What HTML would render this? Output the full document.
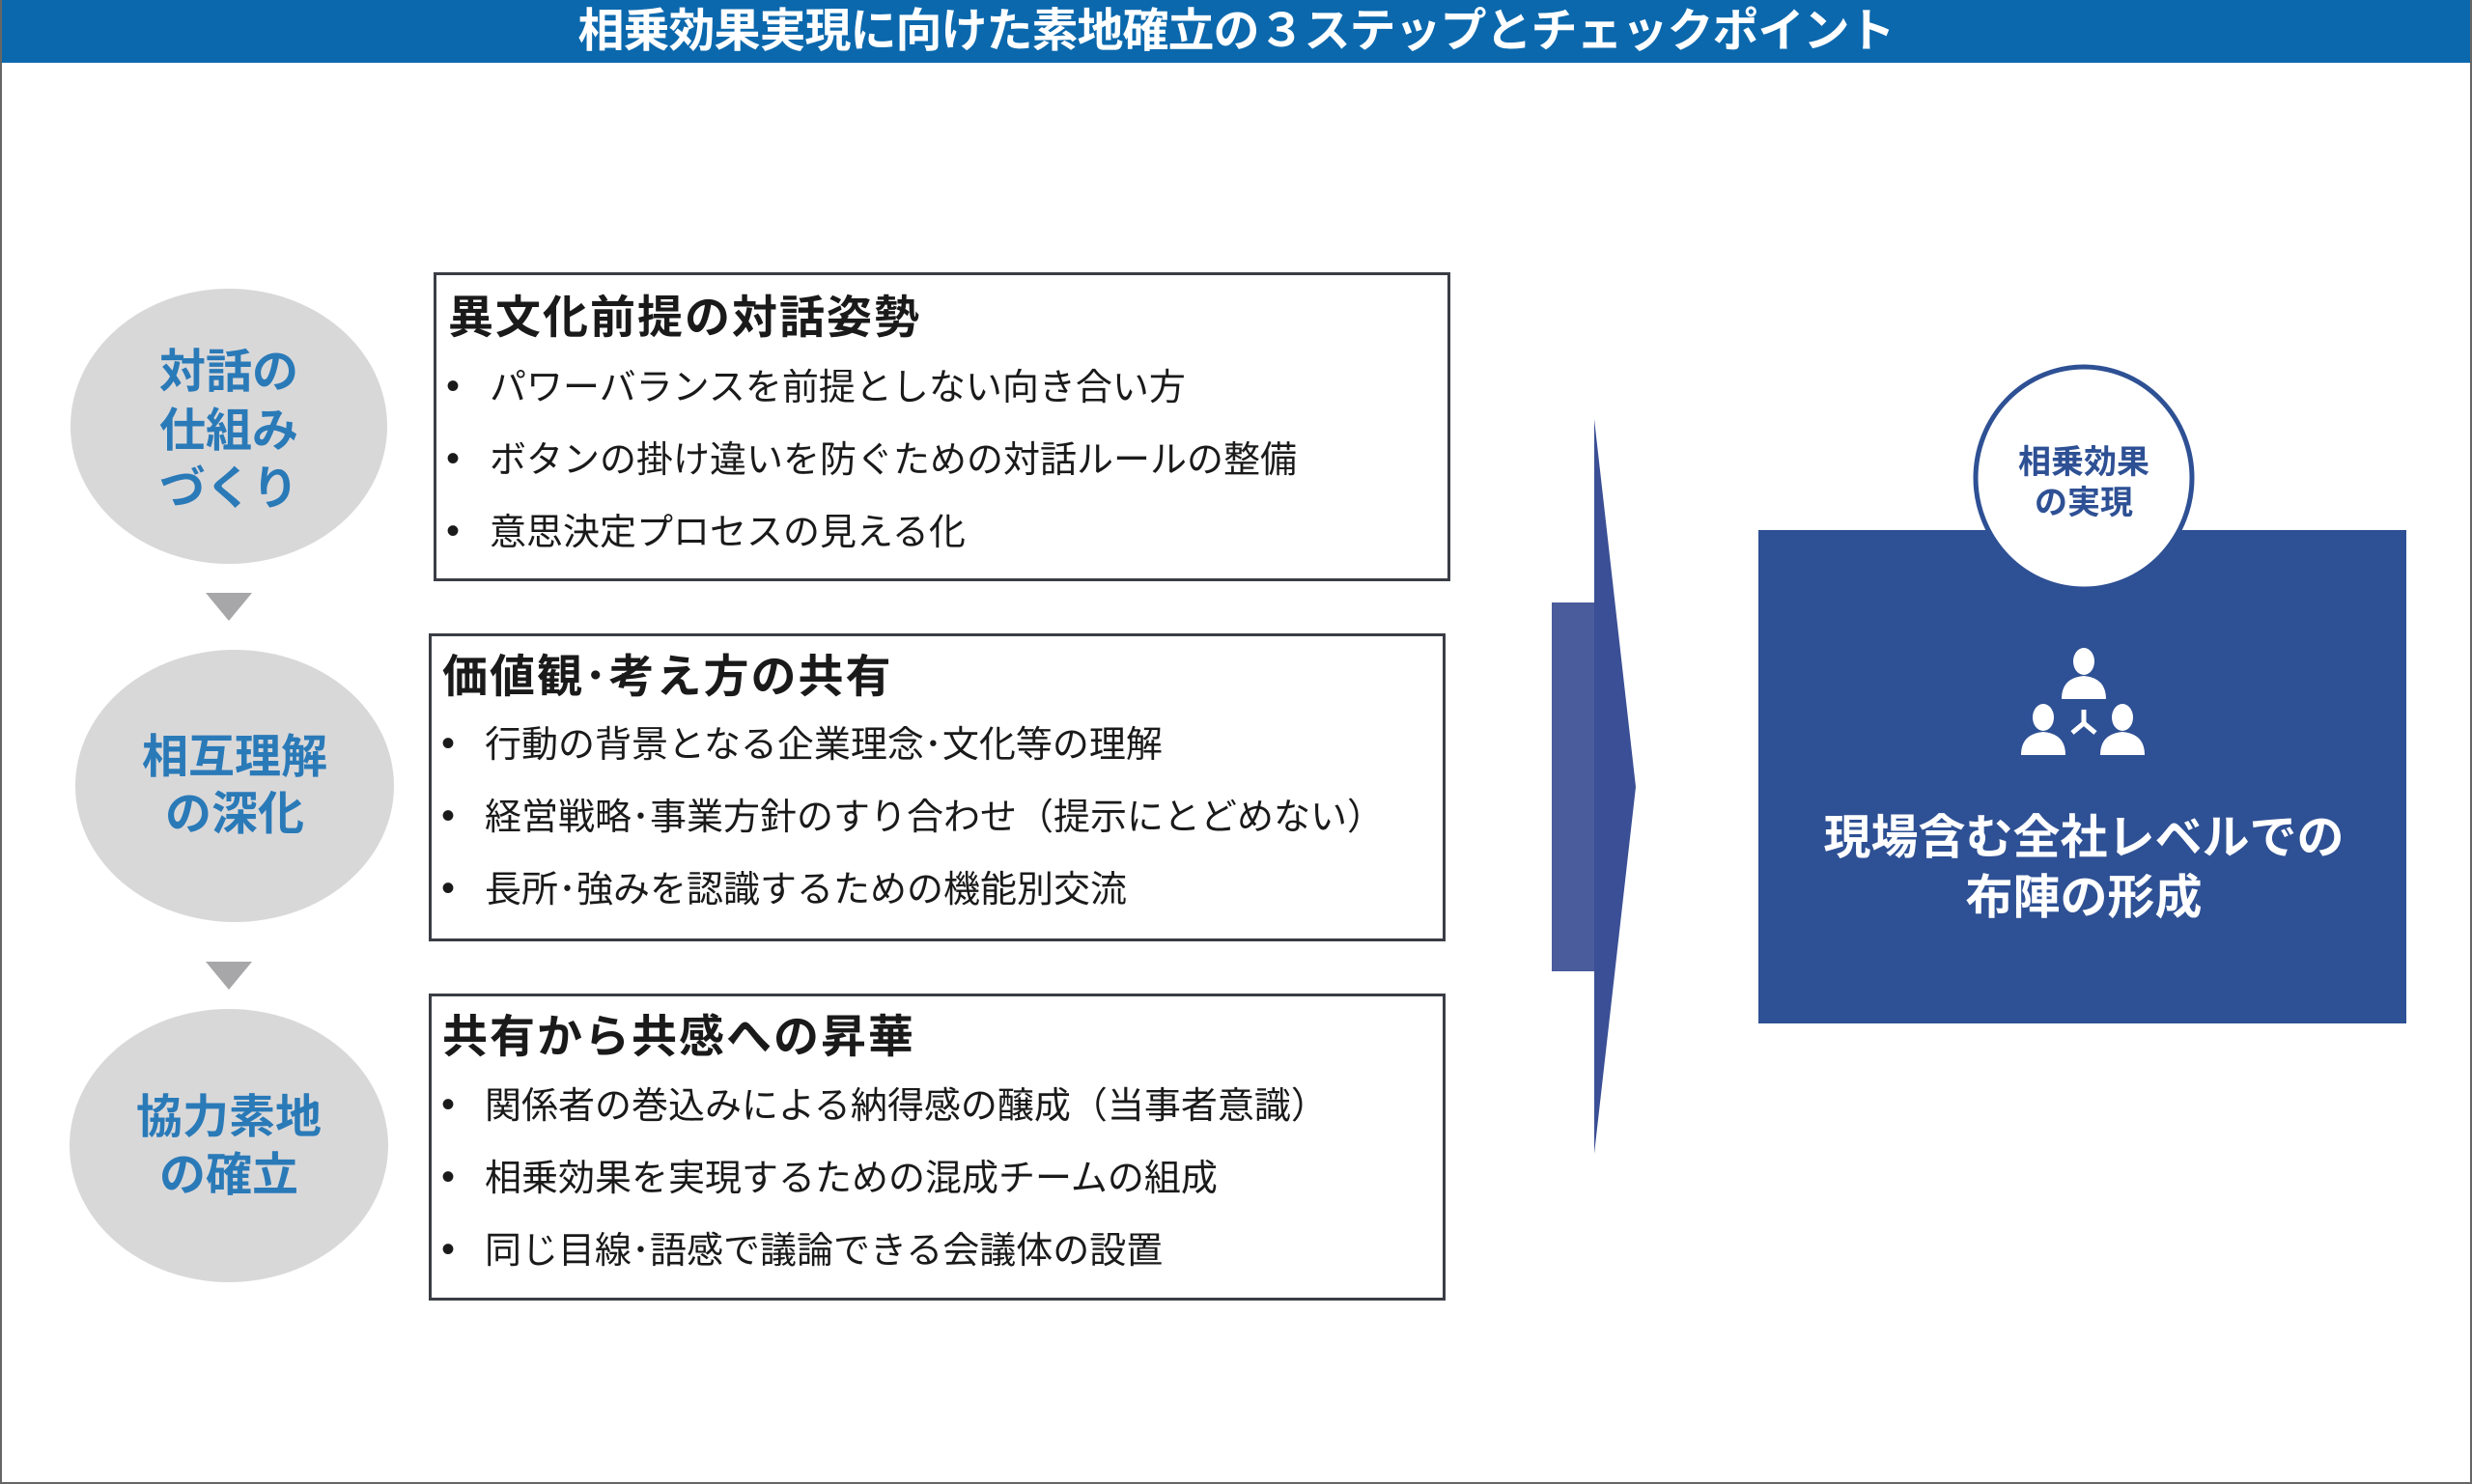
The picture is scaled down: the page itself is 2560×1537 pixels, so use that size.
<!DOCTYPE html>
<html><head><meta charset="utf-8"><style>
*{margin:0;padding:0;box-sizing:border-box}
body{width:2560px;height:1537px;position:relative;background:#fff;overflow:hidden;font-family:"Liberation Sans","Noto Sans CJK JP",sans-serif}
.frame{position:absolute;left:0;top:0;width:2560px;height:1537px;border:2px solid #666;border-top:none}
.title{position:absolute;left:0;top:0;width:2560px;height:65px;background:#0b68ad;color:#fff;font-weight:bold;font-size:48px;line-height:65px;text-align:center;letter-spacing:-1px}
.circ{position:absolute;background:#d9d8d9;border-radius:50%;color:#2a7ab8;font-weight:bold;font-size:48px;text-align:center}
.circ div{position:absolute;left:0;width:100%;line-height:1}
.box{position:absolute;border:3px solid #3a3d45;background:#fff}
.h{position:absolute;font-weight:bold;font-size:47px;color:#1a1a1a;line-height:1;letter-spacing:2px;white-space:nowrap}
.b{position:absolute;font-size:38px;color:#1a1a1a;line-height:1;white-space:nowrap}
.dot{position:absolute;font-size:40px;color:#1a1a1a;line-height:1}
.tri{position:absolute;width:0;height:0;border-left:24px solid transparent;border-right:24px solid transparent;border-top:29px solid #a7a7a9}
</style></head><body>
<div class="title">相乗効果実現に向けた素地確立の３ステップとチェックポイント</div>
<div class="frame"></div>

<div class="circ" style="left:73px;top:299px;width:328px;height:285px">
<div style="top:63px">対話の</div><div style="top:124px">仕組み</div><div style="top:184px">づくり</div></div>
<div class="tri" style="left:213px;top:614px"></div>
<div class="circ" style="left:78px;top:673px;width:330px;height:282px">
<div style="top:88px">相互理解</div><div style="top:147px">の深化</div></div>
<div class="tri" style="left:213px;top:996px"></div>
<div class="circ" style="left:72px;top:1045px;width:330px;height:283px">
<div style="top:89px">協力素地</div><div style="top:149px">の確立</div></div>

<div class="box" style="left:449px;top:282px;width:1053px;height:320px"></div>
<div class="h" style="left:464px;top:305px">異文化前提の対話姿勢</div>
<div class="dot" style="left:462px;top:380px">•</div><div class="b" style="left:507px;top:383px">パワーバランスを前提としない向き合い方</div>
<div class="dot" style="left:462px;top:455px">•</div><div class="b" style="left:507px;top:458px">ボタンの掛け違いを防ぐための対話ルールの整備</div>
<div class="dot" style="left:462px;top:530px">•</div><div class="b" style="left:507px;top:533px">意思決定プロセスの見える化</div>

<div class="box" style="left:444px;top:656px;width:1053px;height:319px"></div>
<div class="h" style="left:458px;top:677px">価値観･考え方の共有</div>
<div class="dot" style="left:457px;top:750px">•</div><div class="b" style="left:502px;top:753px">行動の背景となる企業理念･文化等の理解</div>
<div class="dot" style="left:457px;top:825px">•</div><div class="b" style="left:502px;top:828px">経営戦略･事業方針のすり合わせ（提示にとどめない）</div>
<div class="dot" style="left:457px;top:900px">•</div><div class="b" style="left:502px;top:903px">長所･強みを認識するための機能別交流</div>

<div class="box" style="left:444px;top:1029px;width:1053px;height:318px"></div>
<div class="h" style="left:458px;top:1050px">共有から共感への昇華</div>
<div class="dot" style="left:457px;top:1124px">•</div><div class="b" style="left:502px;top:1127px">関係者の巻込みによる納得感の醸成（当事者意識）</div>
<div class="dot" style="left:457px;top:1199px">•</div><div class="b" style="left:502px;top:1202px">相乗効果を実現するための混成チームの組成</div>
<div class="dot" style="left:457px;top:1274px">•</div><div class="b" style="left:502px;top:1277px">同じ目線･語感で議論できる会議体の設置</div>

<svg style="position:absolute;left:0;top:0" width="2560" height="1537">
<rect x="1607" y="624" width="46" height="382" fill="#4a5c9c"/>
<polygon points="1651,434 1694,815 1651,1195" fill="#3a4f95"/>
<rect x="1821" y="549" width="671" height="511" fill="#2e5094"/>
<ellipse cx="2158" cy="495" rx="112" ry="115" fill="#fff" stroke="#2e5094" stroke-width="5"/>
<g fill="#fff">
<ellipse cx="2158" cy="685" rx="11" ry="14"/>
<path d="M2135,724 q0,-22 23,-24 q23,2 23,24 z"/>
<ellipse cx="2116" cy="743" rx="11" ry="14"/>
<path d="M2093,782 q0,-22 23,-24 q23,2 23,24 z"/>
<ellipse cx="2198" cy="743" rx="11" ry="14"/>
<path d="M2175,782 q0,-22 23,-24 q23,2 23,24 z"/>
</g>
<g stroke="#fff" stroke-width="5" fill="none"><path d="M2158,735 v14 M2158,749 l-12,10 M2158,749 l12,10"/></g>
<text x="2158" y="490" text-anchor="middle" font-family="Liberation Sans,Noto Sans CJK JP,sans-serif" font-weight="bold" font-size="34" fill="#2e5094">相乗効果</text>
<text x="2158" y="532" text-anchor="middle" font-family="Liberation Sans,Noto Sans CJK JP,sans-serif" font-weight="bold" font-size="34" fill="#2e5094">の実現</text>
<text x="2158" y="884" text-anchor="middle" font-family="Liberation Sans,Noto Sans CJK JP,sans-serif" font-weight="bold" font-size="49" fill="#fff">現場含む全社レベルでの</text>
<text x="2158" y="946" text-anchor="middle" font-family="Liberation Sans,Noto Sans CJK JP,sans-serif" font-weight="bold" font-size="49" fill="#fff">布陣の形成</text>
</svg>
</body></html>
